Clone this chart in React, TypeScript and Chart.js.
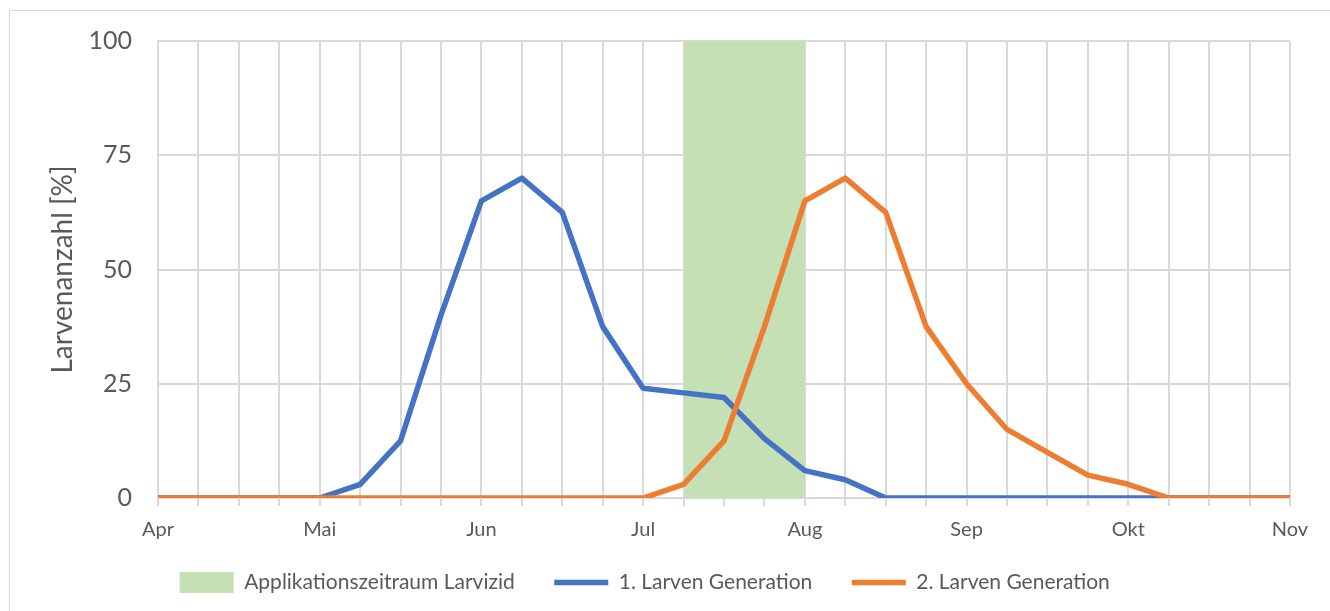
import React, { useEffect, useRef } from "react";
import { Chart, registerables } from "chart.js";

Chart.register(...registerables);

const monthLabels = ["Apr", "Mai", "Jun", "Jul", "Aug", "Sep", "Okt", "Nov"];
const pointsPerMonth = 4;

const generation1 = [
  0, 0, 0, 0, 0, 3, 12.5, 40, 65, 70, 62.5, 37.5, 24, 23, 22, 13, 6, 4, 0, 0, 0, 0, 0, 0, 0, 0, 0, 0, 0,
];
const generation2 = [
  0, 0, 0, 0, 0, 0, 0, 0, 0, 0, 0, 0, 0, 3, 12.5, 37.5, 65, 70, 62.5, 37.5, 25, 15, 10, 5, 3, 0, 0, 0, 0,
];
const applicationStartEnd = [13, 16];
const applicationValue = 100;

const seriesNames = [
  "Applikationszeitraum Larvizid",
  "1. Larven Generation",
  "2. Larven Generation",
];
const yTicks = [0, 25, 50, 75, 100];

const FONT = "Lato, 'Noto Sans', sans-serif";
const TEXT = "#595959";
const GRID = "#d9d9d9";

export default function App() {
  const ref = useRef<HTMLCanvasElement>(null);

  useEffect(() => {
    if (!ref.current) return;
    const chart = new Chart(ref.current, {
      type: "line",
      data: {
        datasets: [
          {
            label: seriesNames[0],
            data: applicationStartEnd.map((x) => ({ x, y: applicationValue })),
            borderWidth: 0,
            borderColor: "#c5e0b4",
            backgroundColor: "#c5e0b4",
            fill: "origin",
            pointRadius: 0,
            order: 2,
            pointStyle: "rect",
          } as any,
          {
            label: seriesNames[1],
            data: generation1.map((y, x) => ({ x, y })),
            borderColor: "#4472c4",
            backgroundColor: "#4472c4",
            borderWidth: 5.5,
            borderCapStyle: "round",
            borderJoinStyle: "round",
            pointRadius: 0,
            tension: 0,
            order: 1,
            pointStyle: "line",
          },
          {
            label: seriesNames[2],
            data: generation2.map((y, x) => ({ x, y })),
            borderColor: "#ed7d31",
            backgroundColor: "#ed7d31",
            borderWidth: 5.5,
            borderCapStyle: "round",
            borderJoinStyle: "round",
            pointRadius: 0,
            tension: 0,
            order: 0,
            pointStyle: "line",
          },
        ],
      },
      options: {
        animation: false,
        responsive: false,
        layout: { padding: { top: 30, right: 40, bottom: 8, left: 0 } },
        plugins: {
          tooltip: { enabled: false },
          legend: {
            position: "bottom",
            labels: {
              usePointStyle: true,
              pointStyleWidth: 54,
              boxHeight: 22,
              padding: 29,
              color: TEXT,
              font: { family: FONT, size: 21 },
              sort: (a: any, b: any) => a.datasetIndex - b.datasetIndex,
              generateLabels: (c: any) =>
                (Chart.defaults.plugins.legend.labels.generateLabels as any)(c).map((item: any) => ({
                  ...item,
                  text: item.text + "\u2002",
                })),
            },
          },
        },
        scales: {
          x: {
            type: "linear",
            min: 0,
            max: (monthLabels.length - 1) * pointsPerMonth,
            afterFit: (s: any) => {
              s.height = 45;
            },
            ticks: {
              stepSize: 1,
              autoSkip: false,
              maxRotation: 0,
              padding: 12,
              color: TEXT,
              font: { family: FONT, size: 20 },
              callback: (v: any) =>
                Number(v) % pointsPerMonth === 0 ? monthLabels[Number(v) / pointsPerMonth] : "",
            },
            grid: { color: GRID, lineWidth: 2, tickLength: 8 },
            border: { color: GRID, width: 2 },
          },
          y: {
            min: 0,
            max: 100,
            afterFit: (s: any) => {
              s.width = 148;
            },
            afterBuildTicks: (s: any) => {
              s.ticks = yTicks.map((value) => ({ value }));
            },
            ticks: {
              padding: 0,
              color: TEXT,
              font: { family: FONT, size: 25 },
            },
            grid: {
              color: GRID,
              lineWidth: 2,
              drawTicks: true,
              tickLength: 26,
              tickColor: "rgba(0,0,0,0)",
            },
            border: { color: GRID, width: 2 },
            title: {
              display: true,
              text: "Larvenanzahl [%]",
              color: TEXT,
              font: { family: FONT, size: 28 },
              padding: { top: 36, bottom: 0 },
            },
          },
        },
      },
    });
    return () => chart.destroy();
  }, []);

  return (
    <div
      style={{
        position: "absolute",
        left: 9,
        top: 10,
        width: 1340,
        height: 620,
        borderTop: `1px solid ${GRID}`,
        borderLeft: `1px solid ${GRID}`,
        background: "#fff",
      }}
    >
      <canvas ref={ref} width={1320} height={600} style={{ display: "block" }} />
    </div>
  );
}
